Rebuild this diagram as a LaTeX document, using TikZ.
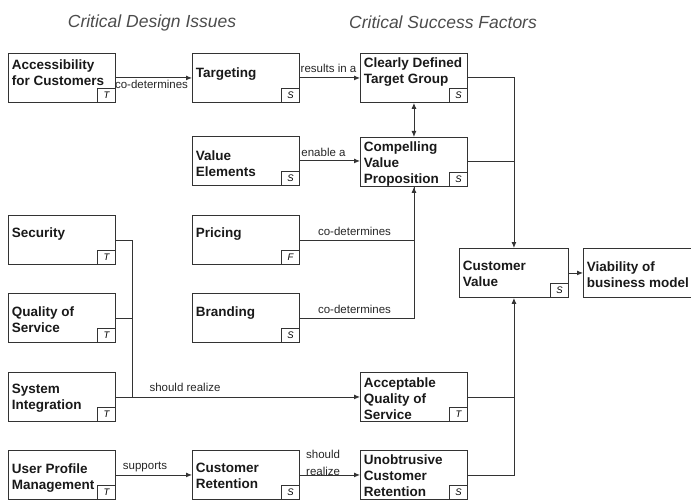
\documentclass[tikz,border=0pt]{standalone}
\usepackage{fontspec}
\setmainfont{Liberation Sans}
\usetikzlibrary{arrows.meta}
\newcommand\boxtxt[3]{\parbox[t][41pt][t]{#1}{\raggedright\vspace*{#2}#3}}
\begin{document}
\begin{tikzpicture}[x=1pt,y=-1pt,
  bx/.style={draw=black!80, line width=0.9pt, anchor=north west, inner xsep=3.5pt, inner ysep=4pt, font=\fontsize{13.5}{16}\selectfont\bfseries, text=black!90},
  tag/.style={draw=black!80, line width=0.8pt, anchor=south east, minimum width=18pt, minimum height=14pt, inner sep=0pt, font=\fontsize{9.5}{10}\selectfont\itshape},
  lbl/.style={font=\fontsize{11.5}{13}\selectfont, inner sep=0pt, text height=8pt, text depth=2pt, text=black!85},
  ln/.style={draw=black!80, line width=0.9pt},
  arr/.style={ln, -{Latex[length=6pt,width=5pt]}},
  hdr/.style={font=\fontsize{17.5}{20}\selectfont\itshape, text=black!70}]
\useasboundingbox (0,0) rectangle (691,500);
\clip (0,0) rectangle (691,500);

\node[hdr] (h1) at (152,23) {Critical Design Issues};
\node[hdr] (h2) at (443,22) {Critical Success Factors};

\node[bx] (acc) at (8,53) {\boxtxt{100pt}{2pt}{Accessibility\\for Customers}};
\node[bx] (targ) at (192,53) {\boxtxt{100pt}{10pt}{Targeting}};
\node[bx] (clear) at (360,53) {\boxtxt{100pt}{0pt}{\mbox{Clearly Defined}\\Target Group}};
\node[bx] (comp) at (360,137) {\boxtxt{100pt}{0pt}{Compelling\\Value\\Proposition}};
\node[bx] (val) at (192,136) {\boxtxt{100pt}{10pt}{Value\\Elements}};
\node[bx] (sec) at (8,215) {\boxtxt{100pt}{8pt}{Security}};
\node[bx] (pric) at (192,215) {\boxtxt{100pt}{8pt}{Pricing}};
\node[bx] (qos) at (8,293) {\boxtxt{100pt}{9pt}{Quality of\\Service}};
\node[bx] (brand) at (192,293) {\boxtxt{100pt}{9pt}{Branding}};
\node[bx] (sysint) at (8,372) {\boxtxt{100pt}{8pt}{System\\Integration}};
\node[bx] (upm) at (8,450) {\boxtxt{100pt}{9pt}{User Profile\\Management}};
\node[bx] (cret) at (192,450) {\boxtxt{100pt}{9pt}{Customer\\Retention}};
\node[bx] (cval) at (459,248) {\boxtxt{102pt}{9pt}{Customer\\Value}};
\node[bx] (viab) at (583,248) {\boxtxt{125pt}{9pt}{Viability of\\business model}};
\node[bx] (aqos) at (360,372) {\boxtxt{100pt}{1pt}{Acceptable\\Quality of\\Service}};
\node[bx] (ucr) at (360,450) {\boxtxt{100pt}{0pt}{Unobtrusive\\Customer\\Retention}};

\node[tag] (acc-t) at (acc.south east) {T};
\node[tag] (targ-t) at (targ.south east) {S};
\node[tag] (clear-t) at (clear.south east) {S};
\node[tag] (comp-t) at (comp.south east) {S};
\node[tag] (val-t) at (val.south east) {S};
\node[tag] (sec-t) at (sec.south east) {T};
\node[tag] (pric-t) at (pric.south east) {F};
\node[tag] (qos-t) at (qos.south east) {T};
\node[tag] (brand-t) at (brand.south east) {S};
\node[tag] (sysint-t) at (sysint.south east) {T};
\node[tag] (upm-t) at (upm.south east) {T};
\node[tag] (cret-t) at (cret.south east) {S};
\node[tag] (cval-t) at (cval.south east) {S};
\node[tag] (aqos-t) at (aqos.south east) {T};
\node[tag] (ucr-t) at (ucr.south east) {S};

\draw[arr] (acc.east) -- (targ.west);
\node[lbl] (l1) at (151.5,86) {co-determines};
\draw[arr] (targ.east) -- (clear.west);
\node[lbl] (l2) at (328.5,70) {results in a};
\draw[ln, {Latex[length=6pt,width=5pt]}-{Latex[length=6pt,width=5pt]}] (clear.south) -- (comp.north);
\draw[arr] (val.east) -- (val.east -| comp.west);
\node[lbl] (l3) at (323.5,154) {enable a};
\draw[arr] (pric.east) -| (comp.south);
\node[lbl] (l4) at (354.5,232.5) {co-determines};
\draw[ln] (brand.east) -| (comp.south);
\node[lbl] (l5) at (354.5,310.5) {co-determines};

\coordinate (bus) at ([xshift=17pt]sysint.east);
\draw[ln] (sec.east) -| (bus);
\draw[ln] (qos.east) -- (qos.east -| bus);
\draw[arr] (sysint.east) -- (aqos.west);
\node[lbl] (l6) at (185,388) {should realize};

\draw[arr] (upm.east) -- (cret.west);
\node[lbl] (l7) at (145,466) {supports};
\draw[arr] (cret.east) -- (ucr.west);
\node[font=\fontsize{11.5}{17}\selectfont, text=black!85, inner sep=0pt, anchor=north west, align=left] (l8) at (306,450) {should\\realize};

\draw[arr] (clear.east) -| (cval.north);
\draw[ln] (comp.east) -- (comp.east -| cval.north);
\draw[arr] (ucr.east) -| (cval.south);
\draw[ln] (aqos.east) -- (aqos.east -| cval.south);
\draw[arr] (cval.east) -- (viab.west);
\end{tikzpicture}
\end{document}
